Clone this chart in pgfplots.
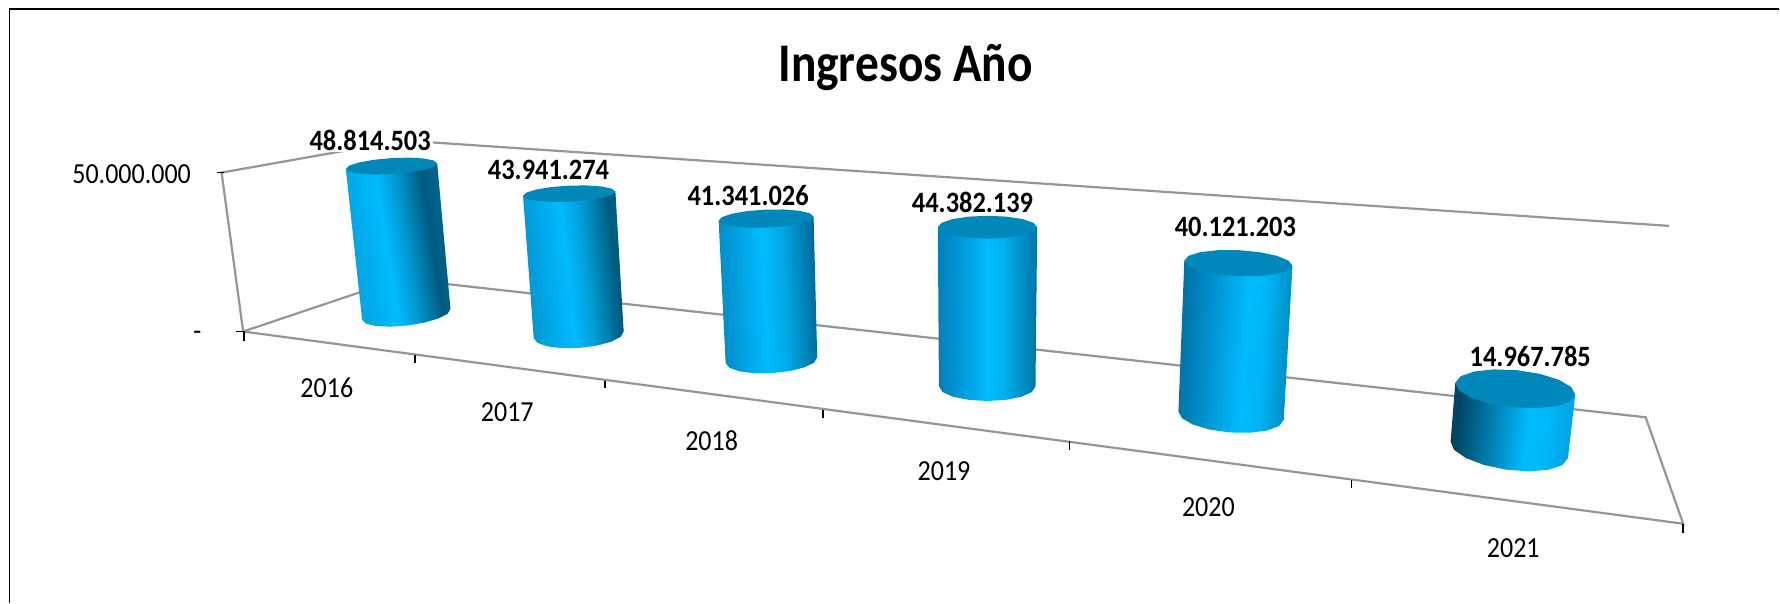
\documentclass[border=0pt]{standalone}
\usepackage{pgfplots}
\pgfplotsset{compat=1.18}
\usepackage{pgfplotstable}
\usepackage{fontspec}
\setmainfont{Carlito}
% values (labels placed at pixel positions of the reference)
\pgfplotstableread{
x y label
370.3 140 48.814.503
548.8 170 43.941.274
748.5 196 41.341.026
973 203 44.382.139
1236 227 40.121.203
1531 357 14.967.785
}\valuelabels
\pgfplotstableread{
x y label
327 388 2016
507.5 412 2017
712 440.5 2018
944.5 471 2019
1209 507 2020
1514 548 2021
}\yearlabels
\pgfplotstableread{
x y label
131.7 174 50.000.000
197.5 336 -
}\vallabels
% unit outlines of a cylinder: k=0 top rim, k=1 bottom rim
\pgfplotstableread{
c s k
-1 0 0
-1 0 1
-0.924 0.383 1
-0.707 0.707 1
-0.383 0.924 1
0 1 1
0.383 0.924 1
0.707 0.707 1
0.924 0.383 1
1 0 1
1 0 0
-1 0 0
}\bodytable
\pgfplotstableread{
c s
1 0
0.924 0.383
0.707 0.707
0.383 0.924
0 1
-0.383 0.924
-0.707 0.707
-0.924 0.383
-1 0
-0.924 -0.383
-0.707 -0.707
-0.383 -0.924
0 -1
0.383 -0.924
0.707 -0.707
0.924 -0.383
1 0
}\toptable
\definecolor{capc}{RGB}{0,136,186}
\definecolor{wallc}{RGB}{150,150,150}
\definecolor{br}{RGB}{0,187,255}
\definecolor{a0}{RGB}{0,165,225}\definecolor{a1}{RGB}{0,150,205}\definecolor{a2}{RGB}{0,90,128}\definecolor{a3}{RGB}{0,100,140}
\definecolor{b0}{RGB}{0,150,210}\definecolor{b1}{RGB}{0,160,215}\definecolor{b2}{RGB}{0,90,125}\definecolor{b3}{RGB}{0,95,135}
\definecolor{c0}{RGB}{0,140,200}\definecolor{c1}{RGB}{0,170,230}\definecolor{c2}{RGB}{0,105,155}
\definecolor{d0}{RGB}{0,125,185}\definecolor{d1}{RGB}{0,178,240}\definecolor{d2}{RGB}{0,115,165}
\definecolor{e0}{RGB}{0,115,170}\definecolor{e1}{RGB}{0,180,245}\definecolor{e2}{RGB}{0,140,195}
\definecolor{f0}{RGB}{0,70,100}\definecolor{f1}{RGB}{0,183,250}\definecolor{f2}{RGB}{0,165,228}
\pgfdeclarehorizontalshading{cylA}{100bp}{color(0bp)=(a0);color(29bp)=(a0);color(45bp)=(br);color(54bp)=(a1);color(65bp)=(a2);color(71bp)=(a3);color(100bp)=(a3)}
\pgfdeclarehorizontalshading{cylB}{100bp}{color(0bp)=(b0);color(27bp)=(b0);color(47bp)=(br);color(56bp)=(b1);color(70bp)=(b2);color(73bp)=(b3);color(100bp)=(b3)}
\pgfdeclarehorizontalshading{cylC}{100bp}{color(0bp)=(c0);color(26bp)=(c0);color(48bp)=(br);color(58bp)=(c1);color(74bp)=(c2);color(100bp)=(c2)}
\pgfdeclarehorizontalshading{cylD}{100bp}{color(0bp)=(d0);color(25bp)=(d0);color(50bp)=(br);color(58bp)=(d1);color(75bp)=(d2);color(100bp)=(d2)}
\pgfdeclarehorizontalshading{cylE}{100bp}{color(0bp)=(e0);color(27bp)=(e0);color(54bp)=(br);color(62bp)=(e1);color(73bp)=(e2);color(100bp)=(e2)}
\pgfdeclarehorizontalshading{cylF}{100bp}{color(0bp)=(f0);color(27bp)=(f0);color(56bp)=(br);color(64bp)=(f1);color(73bp)=(f2);color(100bp)=(f2)}
\newcommand\rim[5]{\def\tcx{#1}\def\tcy{#2}\def\tux{#3}\def\tuy{#4}\def\tr{#5}}
\newcommand\cyl[7]{%
 \addplot[draw=none,shade,shading=#1,shading angle=#2] table[
   x expr={(1-\thisrow{k})*(\tcx+\tux*\thisrow{c}-\tuy*\tr*\thisrow{s})+\thisrow{k}*(#3+#5*\thisrow{c}-(#6)*#7*\thisrow{s})},
   y expr={(1-\thisrow{k})*(\tcy+\tuy*\thisrow{c}+\tux*\tr*\thisrow{s})+\thisrow{k}*(#4+(#6)*\thisrow{c}+#5*#7*\thisrow{s})}
 ] {\bodytable};
 \addplot[draw=none,fill=capc] table[
   x expr={\tcx+\tux*\thisrow{c}-\tuy*\tr*\thisrow{s}},
   y expr={\tcy+\tuy*\thisrow{c}+\tux*\tr*\thisrow{s}}
 ] {\toptable};
}
\begin{document}
\begin{tikzpicture}
\begin{axis}[
  scale only axis, width=890pt, height=301.5pt,
  xmin=0, xmax=1780, ymin=0, ymax=603, y dir=reverse,
  axis lines=none, clip=false,
  every axis plot/.append style={line join=miter},
]
% page extent
\addplot[draw=none] coordinates {(0,0) (1780,603)};
% chart frame
\addplot[black,line width=0.9pt] coordinates {(9.5,603) (9.5,9.3) (1780,9.3)};
% walls and floor
\addplot[wallc,line width=1.1pt] coordinates {(243.3,331.7) (221.7,172.7) (403,140.5) (1670,226)};
\addplot[wallc,line width=1.1pt] coordinates {(243.3,331.7) (400,279) (1646.5,417.5) (1684,524) (243.3,331.7)};
% ticks
\addplot[black,line width=0.8pt] coordinates {(217,172.7) (224,172.7)};
\addplot[black,line width=0.8pt] coordinates {(236,331.7) (244,331.7) (244,340.7)};
\addplot[black,line width=0.8pt] coordinates {(415,355) (415,363)};
\addplot[black,line width=0.8pt] coordinates {(605.3,380.7) (605.3,388.5)};
\addplot[black,line width=0.8pt] coordinates {(823.7,410) (823.7,418)};
\addplot[black,line width=0.8pt] coordinates {(1070,441.7) (1070,450)};
\addplot[black,line width=0.8pt] coordinates {(1352,480) (1352,488)};
\addplot[black,line width=0.8pt] coordinates {(1684,524) (1684,533)};
% cylinders
\rim{391.7}{166.2}{45.7}{-2.85}{0.175}\cyl{cylA}{9}{406.5}{314.6}{44.2}{-5.35}{0.25}
\rim{569.5}{193.8}{46.2}{-2.15}{0.175}\cyl{cylB}{6}{579}{335}{45}{-3.3}{0.29}
\rim{766.5}{218.7}{47.5}{-2}{0.19}\cyl{cylC}{3}{771.8}{360.5}{45.8}{-2.8}{0.28}
\rim{988}{227.3}{49.7}{0}{0.23}\cyl{cylD}{0}{987.7}{386.7}{48.3}{0}{0.30}
\rim{1239}{263.3}{54.1}{2.65}{0.24}\cyl{cylE}{-4}{1231.7}{415.8}{52.7}{4.15}{0.32}
\rim{1516}{389}{60}{5.85}{0.31}\cyl{cylF}{-6}{1510}{450}{58.7}{8.3}{0.34}
% labels
\addplot[draw=none,mark=none,nodes near coords,point meta=explicit symbolic,
  every node near coord/.append style={anchor=center,inner sep=1pt,fill=white,yscale=1.12,transform shape,font=\fontsize{13.2}{14}\selectfont\bfseries}]
  table[meta=label] {\valuelabels};
\addplot[draw=none,mark=none,nodes near coords,point meta=explicit symbolic,
  every node near coord/.append style={anchor=center,yscale=1.12,transform shape,font=\fontsize{13}{14}\selectfont}]
  table[meta=label] {\yearlabels};
\addplot[draw=none,mark=none,nodes near coords,point meta=explicit symbolic,
  every node near coord/.append style={anchor=center,yscale=1.12,transform shape,font=\fontsize{13}{14}\selectfont}]
  table[meta=label] {\vallabels};
\node[font=\fontsize{23.7}{26}\selectfont\bfseries,yscale=1.15,transform shape] at (axis cs:906,68) {Ingresos Año};
\end{axis}
\end{tikzpicture}
\end{document}
